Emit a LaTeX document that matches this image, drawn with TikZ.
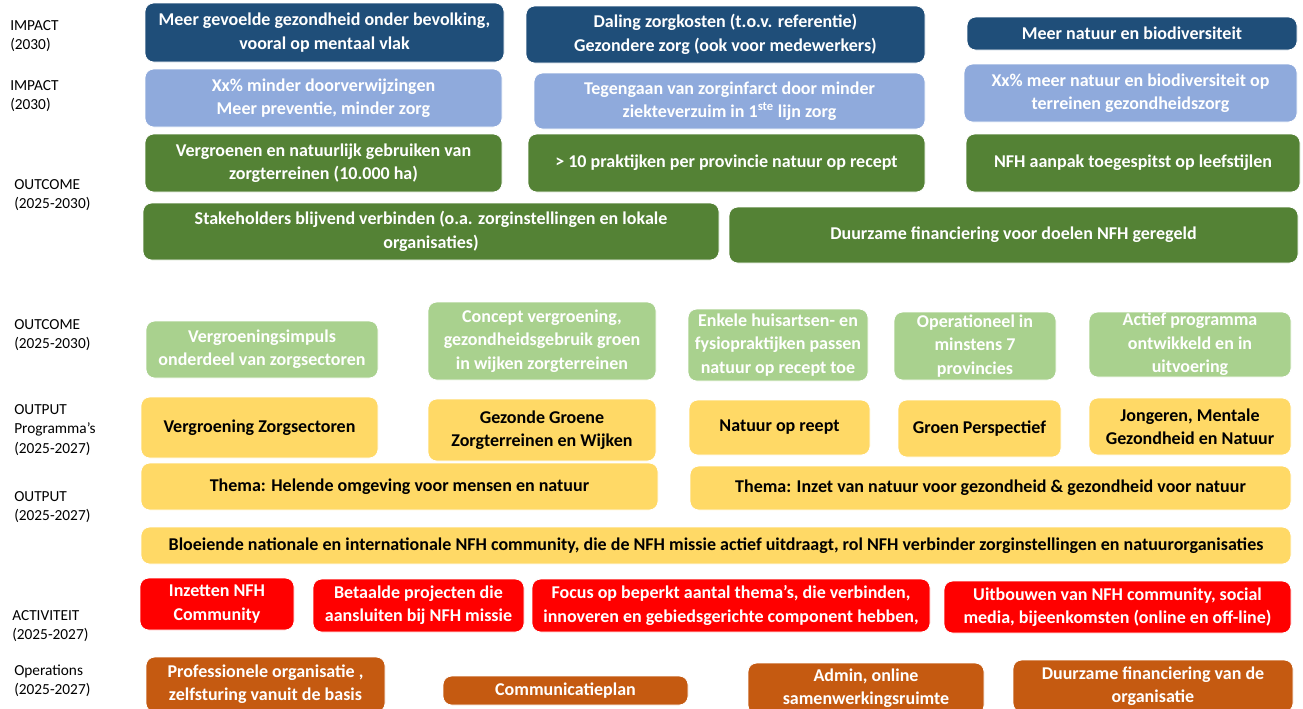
\documentclass[tikz,border=0pt]{standalone}
\usepackage{fontspec}
\setmainfont{Carlito}
\usepackage{tikz}
\usetikzlibrary{positioning}
\definecolor{impactdark}{RGB}{31,78,121}
\definecolor{impactlight}{RGB}{143,170,220}
\definecolor{outcomedark}{RGB}{84,130,53}
\definecolor{outcomelight}{RGB}{169,209,142}
\definecolor{outputyellow}{RGB}{255,217,102}
\definecolor{activityred}{RGB}{255,0,0}
\definecolor{opsorange}{RGB}{197,90,17}
\tikzstyle{box}=[rounded corners=6.5pt,draw=white,line width=0.6pt,inner sep=0pt,align=center,text=white,font=\bfseries\fontsize{13.5}{17.5}\selectfont]
\tikzstyle{impactbox}=[box,fill=impactdark]
\tikzstyle{impactlightbox}=[box,fill=impactlight]
\tikzstyle{outcomebox}=[box,fill=outcomedark]
\tikzstyle{outcomelightbox}=[box,fill=outcomelight]
\tikzstyle{outputbox}=[box,fill=outputyellow,text=black]
\tikzstyle{activitybox}=[box,fill=activityred]
\tikzstyle{opsbox}=[box,fill=opsorange]
\tikzstyle{level}=[anchor=west,align=left,inner sep=0pt,font=\fontsize{11.5}{14.5}\selectfont]

\begin{document}
\begin{tikzpicture}[x=0.75pt,y=-0.75pt]
    \useasboundingbox (0,0) rectangle (1303,708);
    \clip (0,0) rectangle (1303,708);

    % level labels on the left
    \foreach \x/\y/\name/\label in {10/36/lvImpA/{IMPACT\\(2030)}, 10/96/lvImpB/{IMPACT\\(2030)}, 14/195/lvOutcA/{OUTCOME\\(2025-2030)}, 14/335/lvOutcB/{OUTCOME\\(2025-2030)}, 14/430/lvOutpA/{OUTPUT\\Programma’s\\(2025-2027)}, 14/507/lvOutpB/{OUTPUT\\(2025-2027)}, 12/626/lvAct/{ACTIVITEIT\\(2025-2027)}, 14/681/lvOps/{Operations\\(2025-2027)}}
        \node[level] (\name) at (\x,\y) {\label};

    % impact
    \foreach \xa/\ya/\xb/\yb/\name/\label in {145/3/504/62/impA/{Meer gevoelde gezondheid onder bevolking,\\vooral op mentaal vlak}, 526/6/925/63/impB/{Daling zorgkosten (t.o.v. referentie)\\Gezondere zorg (ook voor medewerkers)}, 967/17/1297/50/impC/{Meer natuur en biodiversiteit}}
        \node[impactbox,minimum width={(\xb-\xa)*0.75pt},minimum height={(\yb-\ya)*0.75pt}] (\name) at ({(\xa+\xb)/2},{(\ya+\yb)/2}) {\label};
    \foreach \xa/\ya/\xb/\yb/\name/\label in {145/69/502/127/impD/{Xx\% minder doorverwijzingen\\Meer preventie, minder zorg}, 534/73/925/129/impE/{Tegengaan van zorginfarct door minder\\ziekteverzuim in 1\textsuperscript{ste} lijn zorg}, 964/64/1297/122/impF/{Xx\% meer natuur en biodiversiteit op\\terreinen gezondheidszorg}}
        \node[impactlightbox,minimum width={(\xb-\xa)*0.75pt},minimum height={(\yb-\ya)*0.75pt}] (\name) at ({(\xa+\xb)/2},{(\ya+\yb)/2}) {\label};

    % outcome 2025-2030
    \foreach \xa/\ya/\xb/\yb/\name/\label in {145/134/502/192/outA/{Vergroenen en natuurlijk gebruiken van\\zorgterreinen (10.000 ha)}, 528/134/925/192/outB/{> 10 praktijken per provincie natuur op recept}, 966/134/1300/192/outC/{NFH aanpak toegespitst op leefstijlen}, 143/203/719/260/outD/{Stakeholders blijvend verbinden (o.a. zorginstellingen en lokale\\organisaties)}, 729/207/1298/263/outE/{Duurzame financiering voor doelen NFH geregeld}}
        \node[outcomebox,minimum width={(\xb-\xa)*0.75pt},minimum height={(\yb-\ya)*0.75pt}] (\name) at ({(\xa+\xb)/2},{(\ya+\yb)/2}) {\label};
    \foreach \xa/\ya/\xb/\yb/\name/\label in {146/321/378/378/outF/{Vergroeningsimpuls\\onderdeel van zorgsectoren}, 428/302/656/380/outG/{Concept vergroening,\\gezondheidsgebruik groen\\in wijken zorgterreinen}, 688/309/868/381/outH/{Enkele huisartsen- en\\fysiopraktijken passen\\natuur op recept toe}, 894/312/1056/380/outI/{Operationeel in\\minstens 7\\provincies}, 1089/312/1291/377/outJ/{Actief programma\\ontwikkeld en in\\uitvoering}}
        \node[outcomelightbox,minimum width={(\xb-\xa)*0.75pt},minimum height={(\yb-\ya)*0.75pt}] (\name) at ({(\xa+\xb)/2},{(\ya+\yb)/2}) {\label};

    % output 2025-2027
    \foreach \xa/\ya/\xb/\yb/\name/\label in {141/397/378/458/prgA/{Vergroening Zorgsectoren}, 428/399/656/461/prgB/{Gezonde Groene\\Zorgterreinen en Wijken}, 689/400/870/455/prgC/{Natuur op reept}, 898/400/1061/457/prgD/{Groen Perspectief}, 1089/398/1291/455/prgE/{Jongeren, Mentale\\Gezondheid en Natuur}, 141/463/658/510/themaA/{Thema: Helende omgeving voor mensen en natuur}, 690/466/1291/510/themaB/{Thema: Inzet van natuur voor gezondheid \& gezondheid voor natuur}, 141/527/1291/564/community/{Bloeiende nationale en internationale NFH community, die de NFH missie actief uitdraagt, rol NFH verbinder zorginstellingen en natuurorganisaties}}
        \node[outputbox,minimum width={(\xb-\xa)*0.75pt},minimum height={(\yb-\ya)*0.75pt}] (\name) at ({(\xa+\xb)/2},{(\ya+\yb)/2}) {\label};

    % activiteiten
    \foreach \xa/\ya/\xb/\yb/\name/\label in {140/578/294/630/actA/{Inzetten NFH\\Community}, 313/579/524/632/actB/{Betaalde projecten die\\aansluiten bij NFH missie}, 532/579/930/632/actC/{Focus op beperkt aantal thema’s, die verbinden,\\innoveren en gebiedsgerichte component hebben,}, 944/581/1291/633/actD/{Uitbouwen van NFH community, social\\media, bijeenkomsten (online en off-line)}}
        \node[activitybox,minimum width={(\xb-\xa)*0.75pt},minimum height={(\yb-\ya)*0.75pt}] (\name) at ({(\xa+\xb)/2},{(\ya+\yb)/2}) {\label};

    % operations
    \foreach \xa/\ya/\xb/\yb/\name/\label in {146/657/385/712/opsA/{Professionele organisatie ,\\zelfsturing vanuit de basis}, 443/676/688/705/opsB/{Communicatieplan}, 748/663/984/714/opsC/{Admin, online\\samenwerkingsruimte}, 1013/660/1293/712/opsD/{Duurzame financiering van de\\organisatie}}
        \node[opsbox,minimum width={(\xb-\xa)*0.75pt},minimum height={(\yb-\ya)*0.75pt}] (\name) at ({(\xa+\xb)/2},{(\ya+\yb)/2}) {\label};

\end{tikzpicture}
\end{document}
